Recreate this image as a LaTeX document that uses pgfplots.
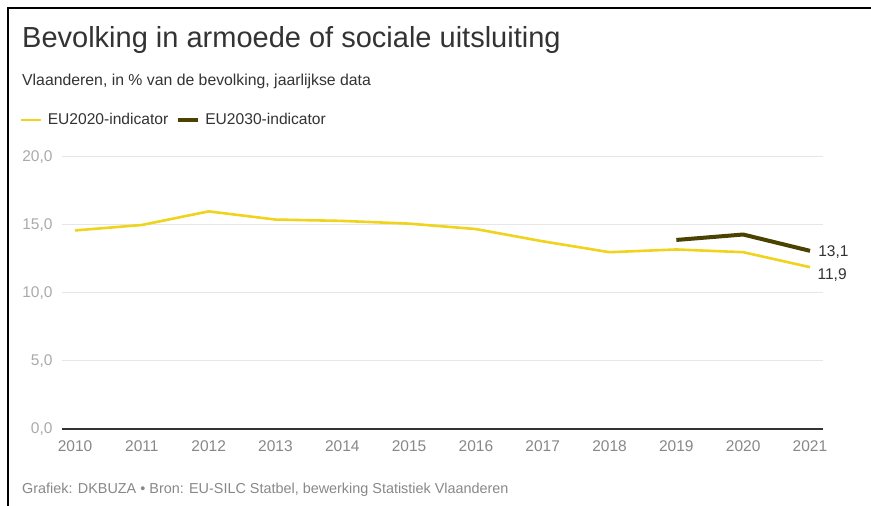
\documentclass[border=0pt]{standalone}
\usepackage{pgfplots}
\pgfplotsset{compat=1.18}
\usepackage{fontspec}
\setmainfont{Liberation Sans}
\definecolor{cyel}{HTML}{F0D31C}
\definecolor{cdark}{HTML}{4B4100}
\definecolor{ctxt}{HTML}{333333}
\definecolor{cgrid}{HTML}{E6E6E6}
\definecolor{cytk}{HTML}{AAAAAA}
\definecolor{cxtk}{HTML}{888888}
\begin{document}
\begin{tikzpicture}[x=1bp,y=1bp]
\path[use as bounding box, fill=white] (0,0) rectangle (871,506);
\draw[line width=2.5bp, black] (8,0) -- (8,498) -- (871,498);
\node[anchor=base west, text=ctxt, font=\fontsize{29bp}{33bp}\selectfont, inner sep=0pt] at (22,506-48) {Bevolking in armoede of sociale uitsluiting};
\node[anchor=base west, text=ctxt, font=\fontsize{15.8bp}{18bp}\selectfont, inner sep=0pt] at (22,506-86) {Vlaanderen, in \% van de bevolking, jaarlijkse data};
\node[anchor=base west, text=cxtk, font=\fontsize{14.4bp}{17bp}\selectfont, inner sep=0pt] at (22,506-494) {Grafiek: DKBUZA • Bron: EU-SILC Statbel, bewerking Statistiek Vlaanderen};
\begin{axis}[
  at={(62bp,77bp)}, anchor=south west,
  scale only axis, width=761bp, height=272bp,
  xmin=2009.805, xmax=2021.195, ymin=0, ymax=20,
  axis line style={draw=none},
  major tick length=0pt,
  xtick={2010,2011,2012,2013,2014,2015,2016,2017,2018,2019,2020,2021},
  xticklabels={2010,2011,2012,2013,2014,2015,2016,2017,2018,2019,2020,2021},
  ytick={5,10,15,20},
  extra y ticks={0},
  extra y tick style={grid style={draw=ctxt, line width=1.3bp}},
  ymajorgrids,
  grid style={draw=cgrid, line width=1bp},
  /pgf/number format/assume math mode=true,
  yticklabel style={/pgf/number format/.cd, fixed, fixed zerofill, precision=1, use comma, /tikz/.cd, text=cytk, font=\fontsize{15.5bp}{17bp}\selectfont, xshift=-6bp},
  xticklabel style={text=cxtk, font=\fontsize{15.5bp}{17bp}\selectfont, yshift=-8bp},
  legend columns=2,
  legend style={at={(axis description cs:-0.0552,1.136)}, anchor=west, draw=none, fill=none,
    font=\fontsize{15.6bp}{18bp}\selectfont, text=ctxt, inner sep=0pt,
    nodes={inner xsep=5bp, inner ysep=0pt},
    /tikz/every even column/.append style={column sep=3bp}},
  legend image code/.code={\draw[#1] (0bp,0bp) -- (20bp,0bp);},
  clip=false,
]
\addplot[cyel, line width=2.6bp, line join=round] coordinates {
(2010,14.6) (2011,15.0) (2012,16.0) (2013,15.4) (2014,15.3) (2015,15.1)
(2016,14.7) (2017,13.8) (2018,13.0) (2019,13.2) (2020,13.0) (2021,11.9)}
 node[pos=1, anchor=west, text=ctxt, font=\fontsize{15.5bp}{17bp}\selectfont, xshift=3bp, yshift=-8bp] {11,9};
\addlegendentry{EU2020-indicator}
\addplot[cdark, line width=4bp, line join=round] coordinates {
(2019,13.9) (2020,14.3) (2021,13.1)}
 node[pos=1, anchor=west, text=ctxt, font=\fontsize{15.5bp}{17bp}\selectfont, xshift=3bp, yshift=-1bp] {13,1};
\addlegendentry{EU2030-indicator}
\end{axis}
\end{tikzpicture}
\end{document}
